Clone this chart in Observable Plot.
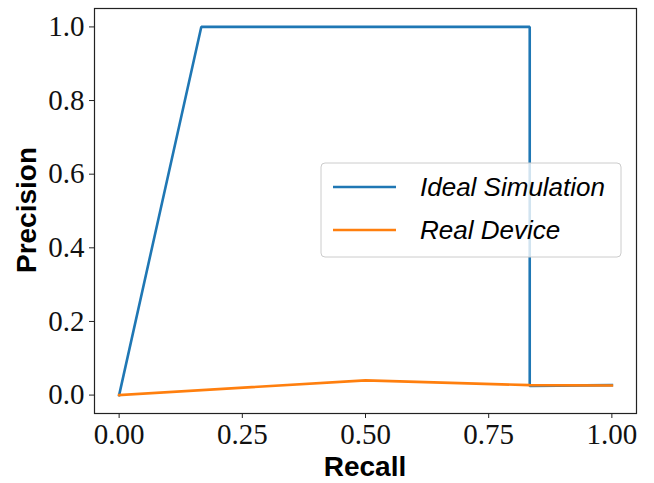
<!DOCTYPE html>
<html>
<head>
<meta charset="utf-8">
<script src="https://cdn.jsdelivr.net/npm/d3@7"></script>
<script src="https://cdn.jsdelivr.net/npm/@observablehq/plot@0.6"></script>
<style>
  html, body { margin: 0; padding: 0; background: #fff; }
</style>
</head>
<body>
<div id="chart"></div>
<script>
// Precision–recall curves
const idealRecall    = [0, 0.1667, 0.8333, 0.8333, 1.0];
const idealPrecision = [0, 1.0,    1.0,    0.025,  0.027];
const realRecall     = [0, 0.5,    0.8333, 1.0];
const realPrecision  = [0, 0.04,   0.027,  0.026];

const xTicks = [0, 0.25, 0.5, 0.75, 1.0];
const yTicks = [0, 0.2, 0.4, 0.6, 0.8, 1.0];

const seriesNames  = ["Ideal Simulation", "Real Device"];
const seriesColors = ["#1f77b4", "#ff7f0e"];

const ideal = idealRecall.map((r, i) => ({recall: r, precision: idealPrecision[i]}));
const real  = realRecall.map((r, i) => ({recall: r, precision: realPrecision[i]}));

const tickFont = "'Liberation Serif', 'DejaVu Serif', serif";
const labelFont = "'Liberation Sans', Arial, sans-serif";

const plot = Plot.plot({
  width: 654,
  height: 483,
  marginLeft: 94,
  marginRight: 18,
  marginTop: 8,
  marginBottom: 70,
  x: {domain: [-0.05, 1.05]},
  y: {domain: [-0.05, 1.05]},
  marks: [
    Plot.axisX({
      ticks: xTicks, tickFormat: d => d.toFixed(2), tickSize: 5, tickPadding: 5,
      fontSize: 29, fontFamily: tickFont, label: null, stroke: "#222", fill: "#111"
    }),
    Plot.axisY({
      ticks: yTicks, tickFormat: d => d.toFixed(1), tickSize: 5, tickPadding: 5,
      fontSize: 29, fontFamily: tickFont, label: null, stroke: "#222", fill: "#111"
    }),
    Plot.line(ideal, {x: "recall", y: "precision", stroke: seriesColors[0], strokeWidth: 2.6, strokeLinejoin: "miter", strokeLinecap: "square"}),
    Plot.line(real,  {x: "recall", y: "precision", stroke: seriesColors[1], strokeWidth: 2.6, strokeLinecap: "square"}),
    Plot.frame({stroke: "#222", strokeWidth: 1.2})
  ]
});

const svg = d3.select(plot);

// axis titles
svg.append("text")
  .attr("x", 365).attr("y", 476)
  .attr("text-anchor", "middle")
  .style("font", `bold 28px ${labelFont}`)
  .attr("fill", "#000")
  .text("Recall");

svg.append("text")
  .attr("transform", "translate(36,210) rotate(-90)")
  .attr("text-anchor", "middle")
  .style("font", `bold 28px ${labelFont}`)
  .attr("fill", "#000")
  .text("Precision");

// legend
const lg = svg.append("g").attr("transform", "translate(321,163)");
lg.append("rect")
  .attr("width", 300).attr("height", 94).attr("rx", 4)
  .attr("fill", "rgba(255,255,255,0.8)")
  .attr("stroke", "#ccc").attr("stroke-width", 1);
seriesNames.forEach((name, i) => {
  const y = 24 + i * 43;
  lg.append("line")
    .attr("x1", 12).attr("x2", 75).attr("y1", y).attr("y2", y)
    .attr("stroke", seriesColors[i]).attr("stroke-width", 2.6);
  lg.append("text")
    .attr("x", 99).attr("y", y + 9)
    .attr("text-anchor", "start")
    .style("font", `italic 26px ${labelFont}`)
    .attr("fill", "#000")
    .text(name);
});

document.getElementById("chart").appendChild(plot);
</script>
</body>
</html>
